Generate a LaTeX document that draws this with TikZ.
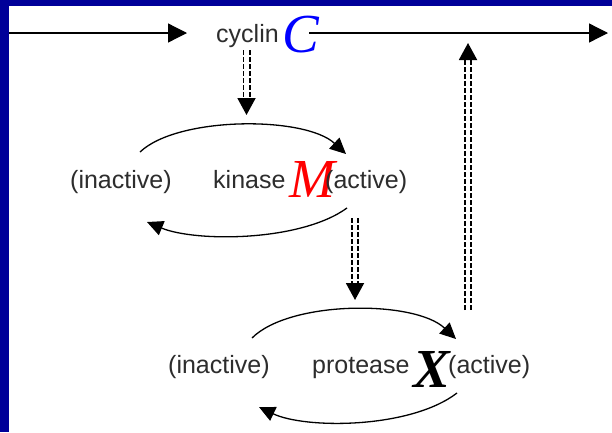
\documentclass[tikz,border=0pt]{standalone}
\usepackage{fontspec}
\setmainfont{Liberation Sans}
\newfontfamily\timesit{Liberation Serif}
\usetikzlibrary{arrows.meta}
\definecolor{framecol}{RGB}{0,0,153}
\definecolor{txtcol}{RGB}{45,45,45}
\tikzset{
  lbl/.style={anchor=base west, inner sep=0pt, text=txtcol, font=\fontsize{25}{25}\selectfont},
  bigletter/.style={anchor=base west, inner sep=0pt, font=\fontsize{55}{55}\selectfont\timesit\itshape},
  mainarrow/.style={line width=1.3pt, -{Triangle[length=19pt,width=19pt]}},
  cyclearc/.style={line width=1.3pt, -{Triangle[length=16pt,width=15pt]}},
  ddash/.style={double, line width=1.9pt, double distance=4.2pt, dash pattern=on 5pt off 2pt,
    -{Triangle[length=17pt,width=18pt]}},
}
\begin{document}
\begin{tikzpicture}[x=1pt,y=-1pt]
  % page and frame
  \fill[white] (0,0) rectangle (612,432);
  \useasboundingbox (0,0) rectangle (612,432);
  \fill[framecol] (0,0) rectangle (612,5.5);
  \fill[framecol] (0,0) rectangle (9,432);

  % cyclin row
  \node[lbl] (cyclin) at (216,42) {cyclin};
  \node[bigletter, text=blue] (C) at (282,52) {C};
  \coordinate (inL) at (9,33);
  \coordinate (cinT) at (187,33);
  \coordinate (coutS) at (309,33);
  \coordinate (outR) at (608,33);
  \draw[mainarrow] (inL) -- (cinT);
  \draw[mainarrow] (coutS) -- (outR);

  % kinase row
  \node[lbl] (kin) at (70,188) {(inactive)};
  \node[lbl] (kinase) at (213,188) {kinase};
  \node[bigletter, text=red] (M) at (289,197) {M};
  \node[lbl] (kact) at (325,188) {(active)};

  % protease row
  \node[lbl] (pin) at (168,373) {(inactive)};
  \node[lbl] (protease) at (312,373) {protease};
  \node[bigletter, font=\fontsize{55}{55}\selectfont\timesit\bfseries\itshape] (X) at (413,387) {X};
  \node[lbl] (pact) at (448,373) {(active)};

  % kinase cycle
  \coordinate (ku1) at (140,152);
  \coordinate (ku2) at (346,154);
  \coordinate (kl1) at (347,208);
  \coordinate (kl2) at (147,222);
  \draw[cyclearc] (ku1) .. controls (178,116) and (305,116) .. (ku2);
  \draw[cyclearc] (kl1) .. controls (300,242) and (195,242) .. (kl2);

  % protease cycle
  \coordinate (pu1) at (252,338);
  \coordinate (pu2) at (456,339);
  \coordinate (pl1) at (457,393);
  \coordinate (pl2) at (259,407);
  \draw[cyclearc] (pu1) .. controls (290,300) and (415,300) .. (pu2);
  \draw[cyclearc] (pl1) .. controls (410,429) and (305,429) .. (pl2);

  % activation steps
  \coordinate (cyc0) at (246.5,50);
  \coordinate (cyc1) at (246.5,115);
  \coordinate (m0) at (355,218);
  \coordinate (m1) at (355,300);
  \coordinate (x0) at (468,310);
  \coordinate (x1) at (468,43);
  \draw[ddash] (cyc0) -- (cyc1);
  \draw[ddash] (m0) -- (m1);
  \draw[ddash] (x0) -- (x1);
\end{tikzpicture}
\end{document}
